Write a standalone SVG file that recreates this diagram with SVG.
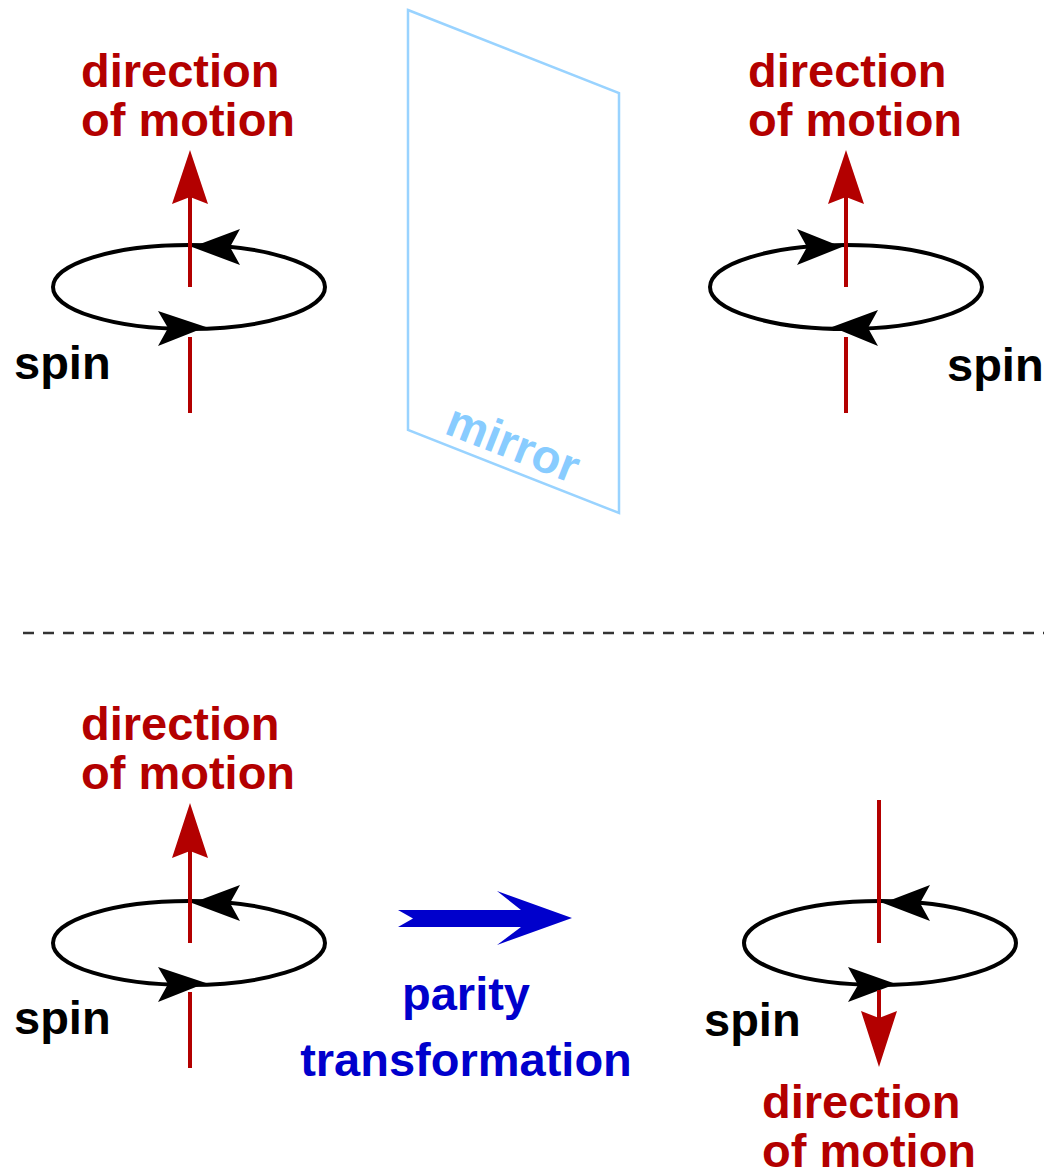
<svg xmlns="http://www.w3.org/2000/svg" width="1044" height="1176" viewBox="0 0 1044 1176">
<style>
text{font-family:"Liberation Sans",Arial,Helvetica,sans-serif;font-weight:bold;font-size:47px}
.red{fill:#b30000}
.blk{fill:#000}
.blue{fill:#0000cc}
.mir{fill:#88ccff}
.orbit{fill:none;stroke:#000;stroke-width:4}
.axis{stroke:#b30000;stroke-width:4;fill:none}
</style>
<rect width="1044" height="1176" fill="#fff"/>

<g id="top-left">
  <ellipse class="orbit" cx="189" cy="287" rx="136" ry="42"/>
  <polygon class="blk" points="192,247 240,229 230,247 240,265"/>
  <polygon class="blk" points="206,327 158,311 168,328 158,346"/>
  <line class="axis" x1="190" y1="196" x2="190" y2="287"/>
  <polygon class="red" points="190,150 208,204 190,197 172,204"/>
  <line class="axis" x1="190" y1="337" x2="190" y2="413"/>
  <text class="red" x="81" y="87">direction</text>
  <text class="red" x="81" y="136">of motion</text>
  <text class="blk" x="14" y="379">spin</text>
</g>

<g id="mirror">
  <polygon points="408,10 619,93 619,513 408,430" fill="none" stroke="#99d3ff" stroke-width="2.5"/>
  <text class="mir" x="443" y="433" transform="rotate(21.5 443 433)">mirror</text>
</g>

<g id="top-right">
  <ellipse class="orbit" cx="846" cy="287" rx="136" ry="42"/>
  <polygon class="blk" points="842,247 797,229 807,247 797,265"/>
  <polygon class="blk" points="832,327 878,310 868,328 878,346"/>
  <line class="axis" x1="846" y1="196" x2="846" y2="287"/>
  <polygon class="red" points="846,150 864,204 846,197 828,204"/>
  <line class="axis" x1="846" y1="337" x2="846" y2="413"/>
  <text class="red" x="748" y="87">direction</text>
  <text class="red" x="748" y="136">of motion</text>
  <text class="blk" x="947" y="381">spin</text>
</g>

<line id="divider" x1="23" y1="633" x2="1044" y2="633" stroke="#333" stroke-width="2.5" stroke-dasharray="11 9"/>

<g id="bottom-left">
  <ellipse class="orbit" cx="189" cy="943" rx="136" ry="42"/>
  <polygon class="blk" points="192,903 240,885 230,903 240,921"/>
  <polygon class="blk" points="206,983 158,967 168,984 158,1002"/>
  <line class="axis" x1="190" y1="850" x2="190" y2="943"/>
  <polygon class="red" points="190,803 208,858 190,851 172,858"/>
  <line class="axis" x1="190" y1="992" x2="190" y2="1068"/>
  <text class="red" x="81" y="740">direction</text>
  <text class="red" x="81" y="789">of motion</text>
  <text class="blk" x="14" y="1034">spin</text>
</g>

<g id="parity">
  <polygon class="blue" points="398,910 521,910 497,891 572,918 497,945 521,927 398,927 413,918.5"/>
  <text class="blue" x="466" y="1010" text-anchor="middle">parity</text>
  <text class="blue" x="466" y="1076" text-anchor="middle">transformation</text>
</g>

<g id="bottom-right">
  <ellipse class="orbit" cx="880" cy="943" rx="136" ry="42"/>
  <polygon class="blk" points="883,903 930,885 920,903 930,921"/>
  <polygon class="blk" points="896,984 848,967 858,985 848,1002"/>
  <line class="axis" x1="879" y1="800" x2="879" y2="943"/>
  <line class="axis" x1="879" y1="990" x2="879" y2="1020"/>
  <polygon class="red" points="879,1067 897,1011 879,1018 861,1011"/>
  <text class="red" x="762" y="1118">direction</text>
  <text class="red" x="762" y="1167">of motion</text>
  <text class="blk" x="704" y="1036">spin</text>
</g>
</svg>
